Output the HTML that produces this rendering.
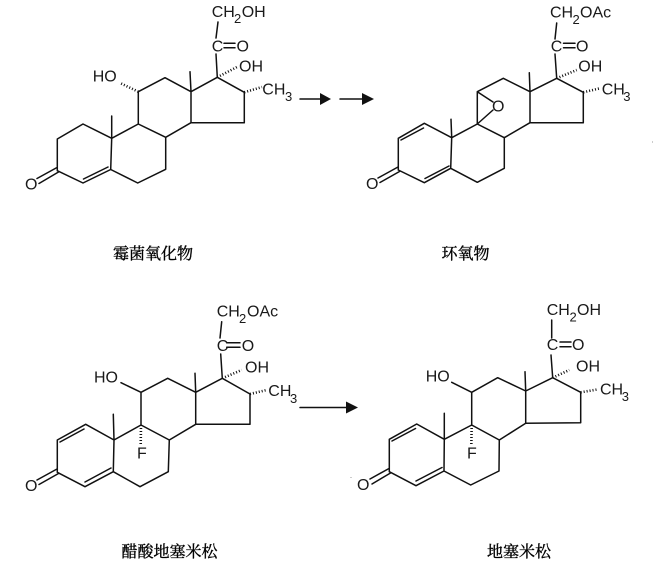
<!DOCTYPE html>
<html><head><meta charset="utf-8"><style>
html,body{margin:0;padding:0;background:#fff;width:653px;height:569px;overflow:hidden}
svg{display:block;filter:blur(.35px)}
.b{stroke:#111;stroke-width:1.5;fill:none;stroke-linejoin:round;stroke-linecap:round}
.h{stroke:#111;stroke-width:2.6;fill:none;stroke-dasharray:1 2}
text{font-family:"Liberation Sans",sans-serif;font-size:16px;fill:#1a1a1a}
.s{font-size:13px}
.c{font-family:"Liberation Serif","Noto Serif CJK SC",serif;font-size:16px;text-anchor:middle;fill:#000;stroke:#000;stroke-width:.35}
</style></head><body>
<svg width="653" height="569" viewBox="0 0 653 569" xmlns="http://www.w3.org/2000/svg">

<!-- Molecule 1 -->
<path class="b" d="M57.3 170.7L83 183L110.7 169.5L137.7 183L165.7 169.3V137.3L138.3 124L111.7 138.3L83 124L57.3 139V170.7M110.7 169.5L111.7 138.3V116M138.3 124V91.7L165 77.7L191 91.7L217.3 77.3L244.3 92.3V122.7H191L165.7 137.3M191 91.7V122.7M191 91.7L190 71.7M217.3 77.3L216 54M216 38L218 22M83.5 179L108 167M57 167.5L37 178.5M58.5 172L39 183.5M224 43.3H235M224 47.7H235"/>
<path class="h" d="M138.3 91.7L120 83M217.3 77.3L237 67M244.3 92.3L262 87"/>
<text x="92.7" y="81.7">HO</text>
<text x="211.7" y="17">CH</text><text class="s" x="234" y="23">2</text><text x="241.7" y="17">OH</text>
<text x="211.7" y="51.5">C</text><text x="236.5" y="51.5">O</text>
<text x="239" y="71.7">OH</text>
<text x="262.3" y="94.3">CH</text><text class="s" x="285" y="101">3</text>
<text x="25" y="189.5">O</text>
<text class="c" x="153" y="259">霉菌氧化物</text>

<!-- Arrows -->
<path class="b" d="M300 99H321M340 99H363M300 407.5H347"/>
<path d="M320 93L331 99L320 105ZM362 93L374 99L362 105ZM346 401.5L358 407.5L346 413.5Z" fill="#111"/>

<!-- Molecule 2 -->
<path class="b" d="M398.3 170L424.3 182.7L450.7 168.3L477.3 182.3L504.3 168.3V137.7L477.3 124L451.7 137.7L424.3 123.3L398.3 138.3V170M450.7 168.3L451.7 137.7L451 119.3M477.3 124V91.7L503.3 78.3L530 91.7L556.7 78.3L583.3 92.3V122.7H530L504.3 137.7M530 91.7V122.7M530 91.7L529.3 72.7M556.7 78.3L555 54M555 39L556.7 23M425 178.5L449 166M401 140L423.5 128M398 167L378 178M399.5 171.5L380 182.5M563.5 43.3H575M563.5 47.7H575M477.3 91.7L493 102M477.3 124L493 110"/>
<path class="h" d="M556.7 78.3L576.7 70M583.3 92.3L600 88.3"/>
<text x="550" y="17.3">CH</text><text class="s" x="572.5" y="24">2</text><text x="580" y="17.3">OAc</text>
<text x="550.7" y="51.7">C</text><text x="576" y="51.7">O</text>
<text x="578.3" y="71.7">OH</text>
<text x="601.7" y="94.3">CH</text><text class="s" x="623.3" y="101">3</text>
<text x="366" y="189">O</text>
<text x="492" y="111.5">O</text>
<text class="c" x="465.5" y="259">环氧物</text>

<!-- Molecule 3 -->
<path class="b" d="M57.3 472.3L85 486.7L113.3 471.7L140 486.7L168.3 471.7L169.3 440L141 425L114 440L85.7 424.3L57.3 440V472.3M113.3 471.7L114 440L113.3 414.3M141 425V392.3L167.7 378.3L195.7 392.3L222.3 378.3L250 394V424.3H195.7L169.3 440M195.7 392.3V424.3M195.7 392.3L195 373.3M222.3 378.3L220.7 354M220 338L221.7 321.7M141 392.3L121 382.7M85 482L111 468M60 442L84 429M57 469L37 480M58.5 473.5L39 484.5M226.7 342.7H240M226.7 347.3H240"/>
<path class="h" d="M222.3 378.3L241.7 370M250 394L266.7 390M141 425L140.7 445"/>
<text x="216.7" y="316.7">CH</text><text class="s" x="239" y="323">2</text><text x="247" y="316.7">OAc</text>
<text x="216.7" y="351">C</text><text x="241.7" y="351">O</text>
<text x="94" y="382.3">HO</text>
<text x="245" y="372.3">OH</text>
<text x="268.3" y="396">CH</text><text class="s" x="290" y="403">3</text>
<text x="137" y="458.3">F</text>
<text x="25" y="491">O</text>
<text class="c" x="169.5" y="557">醋酸地塞米松</text>

<!-- Molecule 4 -->
<path class="b" d="M389.3 471.7L416 485.7L444 471L470.7 485L499 471L499.3 440L471.7 425L444.3 439.3L416.7 424L389.3 439.3V471.7M444 471L444.3 439.3V413.3M471.7 425V392.3L497.7 377.7L525.7 391L552.7 377.7L580.7 392.3V422.7L525.7 423.3L499.3 440M525.7 391V423.3M525.7 391L525 371.7M552.7 377.7L551 355M551.7 338V320M471.7 392.3L451.7 382.3M416 481L442 467.5M392 441L415.5 428.5M389 468.5L370 479M390.5 473L372 484M560 342H571M560 346.7H571"/>
<path class="h" d="M552.7 377.7L569.3 370M580.7 392.3L598.3 389.3M471.7 425L471.3 446"/>
<text x="546.7" y="315">CH</text><text class="s" x="569.5" y="321.5">2</text><text x="577" y="315">OH</text>
<text x="546.7" y="350">C</text><text x="572" y="350">O</text>
<text x="425.7" y="381.7">HO</text>
<text x="576" y="371.7">OH</text>
<text x="600" y="394.3">CH</text><text class="s" x="621.7" y="401">3</text>
<text x="467" y="458.3">F</text>
<text x="357" y="490">O</text>
<text class="c" x="519" y="557">地塞米松</text>

<rect x="652" y="141" width="1" height="2" fill="#ccc"/>
<rect x="350" y="477" width="2" height="1" fill="#ccc"/>
</svg>
</body></html>
